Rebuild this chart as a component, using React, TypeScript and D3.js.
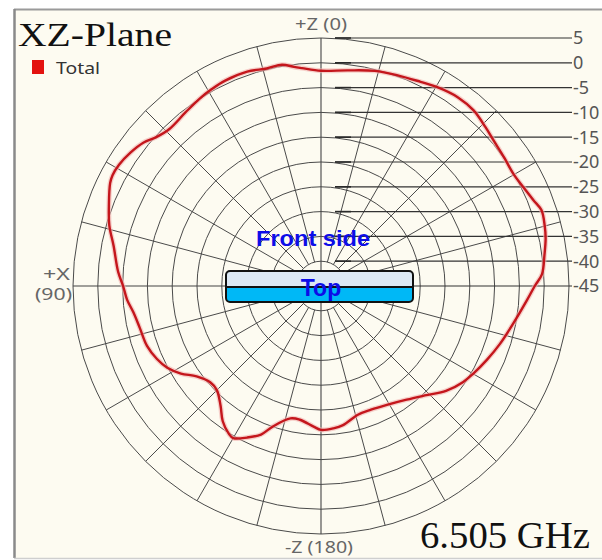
import React from "react";
import * as d3 from "d3";

// Pattern data: angle (deg, counter-clockwise from +Z toward +X) and gain (dB)
const angles = [
  0, 5, 7, 10, 14, 19, 25, 29, 33, 38, 44, 48, 51, 55, 59, 62, 64, 69, 74, 79,
  86, 90, 94, 98, 103, 109, 114, 118, 122, 126, 131, 135, 140, 144, 148, 150,
  154, 158, 161, 167, 171, 177, 180, 185, 189, 196, 202, 209, 217, 224, 230,
  236, 240, 246, 252, 259, 266, 270, 273, 278, 282, 285, 289, 292, 296, 300,
  305, 310, 314, 319, 324, 330, 334, 340, 346, 353,
];
const gains = [
  -1.6, -0.9, -0.5, 0.3, 0.2, 0.7, 0.7, 0.4, 0.0, -0.6, -1.0, -0.2, 1.0, 1.9,
  2.5, 2.6, 2.3, 0.8, -0.6, -2.4, -4.0, -5.1, -5.8, -6.8, -7.5, -7.9, -8.8,
  -9.9, -11.7, -14.0, -15.4, -15.3, -13.5, -11.3, -9.9, -9.6, -11.0, -12.7,
  -15.0, -17.6, -17.7, -16.6, -16.0, -16.2, -16.6, -18.0, -18.1, -17.6, -16.3,
  -14.4, -12.1, -10.4, -9.6, -8.4, -7.1, -5.5, -3.4, -1.9, -0.4, 0.5, 1.3, 1.7,
  2.0, 1.2, 0.4, -0.1, 0.1, 0.5, 1.1, 1.9, 2.0, 1.4, 0.8, 0.2, -0.3, -1.2,
];
const ringLevels = [-40, -35, -30, -25, -20, -15, -10, -5, 0, 5];
const tickLabels = [5, 0, -5, -10, -15, -20, -25, -30, -35, -40, -45];
const spokeAngles = d3.range(0, 360, 15);

export default function App() {
  const W = 602;
  const H = 560;
  const cx = 321;
  const cy = 286;
  const rScale = d3.scaleLinear().domain([-45, 5]).range([0, 248]);
  const rMax = rScale(5);

  const line = d3
    .lineRadial<number>()
    .angle((_, i) => (-angles[i] * Math.PI) / 180)
    .radius((d) => rScale(d))
    .curve(d3.curveCatmullRomClosed.alpha(0.5));
  const path = line(gains) || "";

  const grid = "#4a4a4a";
  const labelFont = "'Noto Sans', 'DejaVu Sans', sans-serif";

  return (
    <div style={{ position: "absolute", left: 0, top: 0 }}>
      <svg width={W} height={H} viewBox={`0 0 ${W} ${H}`} style={{ display: "block" }}>
        <rect x={0} y={0} width={W} height={H} fill="#ffffff" />
        <rect x={14} y={9} width={W - 14} height={549} fill="#fdfbf1" />
        <line x1={14} y1={9.5} x2={W} y2={9.5} stroke="#9a9a9a" strokeWidth={2} />
        <line x1={14.5} y1={9} x2={14.5} y2={558} stroke="#8a8a8a" strokeWidth={2.5} />
        <line x1={14} y1={558.5} x2={W} y2={558.5} stroke="#cfcfcf" strokeWidth={1.5} />

        <g transform={`translate(${cx},${cy})`}>
          {spokeAngles
            .filter((a) => a % 90 !== 0)
            .map((a) => {
              const t = (a * Math.PI) / 180;
              const r0 = rScale(-40);
              return (
                <line
                  key={`s${a}`}
                  x1={-r0 * Math.sin(t)}
                  y1={-r0 * Math.cos(t)}
                  x2={-rMax * Math.sin(t)}
                  y2={-rMax * Math.cos(t)}
                  stroke={grid}
                  strokeWidth={1}
                />
              );
            })}
          {ringLevels.map((lv) => (
            <circle key={`r${lv}`} r={rScale(lv)} fill="none" stroke={grid} strokeWidth={1} />
          ))}
          <line x1={0} y1={-rMax} x2={0} y2={rMax} stroke="#444" strokeWidth={1.1} />
          <line x1={-rMax} y1={0} x2={0} y2={0} stroke="#444" strokeWidth={1.1} />
        </g>

        {tickLabels.map((v) => {
          const y = cy - rScale(v);
          const x0 = v === -45 ? cx : cx + 14;
          return (
            <g key={`t${v}`}>
              <line x1={x0} y1={y} x2={572} y2={y} stroke="#333" strokeWidth={1.2} />
              {v !== -45 && (
                <line x1={cx + 14} y1={y} x2={cx + 30} y2={y} stroke="#2a2a2a" strokeWidth={1.6} />
              )}
              <text x={573} y={y} dy="0.36em" fontFamily={labelFont} fontSize={18} fill="#555">
                {v}
              </text>
            </g>
          );
        })}

        <g transform={`translate(${cx},${cy})`}>
          <path d={path} fill="none" stroke="#f2b4b0" strokeOpacity={0.6} strokeWidth={5} />
          <path d={path} fill="none" stroke="#c4161c" strokeWidth={2.4} strokeLinejoin="round" />
        </g>

        <text x={295} y={30} fontFamily={labelFont} fontSize={16} fill="#666" textLength={52} lengthAdjust="spacingAndGlyphs">
          +Z (0)
        </text>
        <text x={285} y={553} fontFamily={labelFont} fontSize={16} fill="#666" textLength={68} lengthAdjust="spacingAndGlyphs">
          -Z (180)
        </text>
        <text x={43} y={280} fontFamily={labelFont} fontSize={16} fill="#666" textLength={27} lengthAdjust="spacingAndGlyphs">
          +X
        </text>
        <text x={35} y={300} fontFamily={labelFont} fontSize={16} fill="#666" textLength={37} lengthAdjust="spacingAndGlyphs">
          (90)
        </text>

        <rect x={226} y={271} width={187} height={31} rx={4} fill="#00b8f6" />
        <path d="M226,287 L226,275 Q226,271 230,271 L409,271 Q413,271 413,275 L413,287 Z" fill="#dce8f4" />
        <line x1={226} y1={287} x2={413} y2={287} stroke="#111" strokeWidth={1.8} />
        <rect x={226} y={271} width={187} height={31} rx={4} fill="none" stroke="#111" strokeWidth={2} />
        <text x={321} y={296} textAnchor="middle" fontFamily="'Liberation Sans', Arial, sans-serif" fontWeight="bold" fontSize={23} fill="#0d0de8">
          Top
        </text>
        <text x={313} y={246} textAnchor="middle" fontFamily="'Liberation Sans', Arial, sans-serif" fontWeight="bold" fontSize={22} fill="#0d0de8" textLength={114} lengthAdjust="spacingAndGlyphs">
          Front side
        </text>

        <text x={18} y={46} fontFamily="'Liberation Serif', 'Times New Roman', serif" fontSize={33} fill="#111" textLength={154} lengthAdjust="spacingAndGlyphs">
          XZ-Plane
        </text>
        <rect x={32} y={60} width={12} height={14} fill="#e3120f" />
        <text x={56} y={74} fontFamily={labelFont} fontSize={17} fill="#333" textLength={44} lengthAdjust="spacingAndGlyphs">
          Total
        </text>
        <text x={420} y={548} fontFamily="'Liberation Serif', 'Times New Roman', serif" fontSize={37} fill="#111" textLength={170} lengthAdjust="spacingAndGlyphs">
          6.505 GHz
        </text>
      </svg>
    </div>
  );
}
